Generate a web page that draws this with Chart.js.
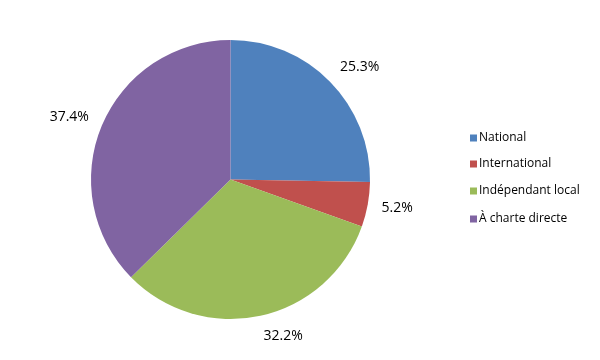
<!DOCTYPE html>
<html>
<head>
<meta charset="utf-8">
<script src="https://cdn.jsdelivr.net/npm/chart.js@4/dist/chart.umd.min.js"></script>
<style>
  html, body { margin: 0; padding: 0; background: #fff; }
  #wrap { width: 600px; height: 360px; }
</style>
</head>
<body>
<div id="wrap"><canvas id="pieChart" width="600" height="360"></canvas></div>
<script>
const categories = ['National', 'International', 'Indépendant local', 'À charte directe']
const shares = [25.3, 5.2, 32.2, 37.4]
const sliceColors = ['#4F81BD', '#C0504D', '#9BBB59', '#8064A2']

const fontFamily = '"Open Sans", "Liberation Sans", sans-serif'

// percentage labels outside each slice, Excel style
const outsideLabels = {
  id: 'outsideLabels',
  afterDatasetsDraw(chart) {
    const ctx = chart.ctx
    const meta = chart.getDatasetMeta(0)
    ctx.save()
    ctx.font = '14px ' + fontFamily
    ctx.fillStyle = '#000'
    ctx.textAlign = 'center'
    ctx.textBaseline = 'middle'
    meta.data.forEach((arc, i) => {
      const p = arc.getProps(['x', 'y', 'startAngle', 'endAngle', 'outerRadius'], true)
      const mid = (p.startAngle + p.endAngle) / 2
      const dx = Math.cos(mid), dy = Math.sin(mid)
      const text = shares[i].toFixed(1) + '%'
      const w = ctx.measureText(text).width
      const dist = p.outerRadius + 14
      const lx = p.x + dx * dist + Math.sign(dx) * w / 2
      const ly = p.y + dy * dist + dy * 7
      ctx.fillText(text, lx, ly)
    })
    ctx.restore()
  }
}

// legend on the right, small square markers
const sideLegend = {
  id: 'sideLegend',
  afterDraw(chart) {
    const ctx = chart.ctx
    ctx.save()
    ctx.font = '12px ' + fontFamily
    ctx.textBaseline = 'middle'
    const rows = [138, 164, 191, 219]
    chart.data.labels.forEach((lab, i) => {
      ctx.fillStyle = sliceColors[i]
      ctx.fillRect(470, rows[i] - 3.5, 7, 7)
      ctx.fillStyle = '#000'
      ctx.fillText(lab, 479, rows[i])
    })
    ctx.restore()
  }
}

const ctx = document.getElementById('pieChart').getContext('2d')
const pieChart = new Chart(ctx, {
  type: 'pie',
  data: {
    labels: categories,
    datasets: [{
      data: shares,
      backgroundColor: sliceColors,
      borderWidth: 0
    }]
  },
  options: {
    responsive: false,
    animation: false,
    layout: {
      padding: { top: 40, bottom: 41, left: 0, right: 139 }
    },
    plugins: {
      legend: { display: false },
      tooltip: { enabled: false }
    }
  },
  plugins: [outsideLabels, sideLegend]
})
</script>
</body>
</html>
